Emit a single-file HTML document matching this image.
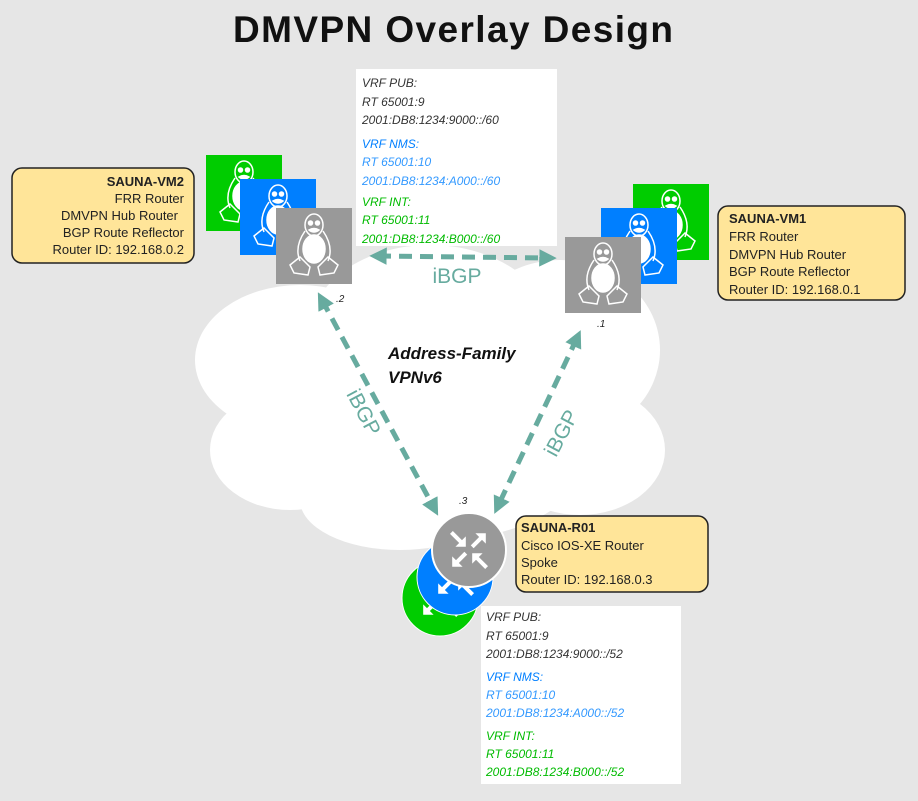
<!DOCTYPE html>
<html><head><meta charset="utf-8"><style>
body{margin:0;background:#e6e6e6;}
svg{display:block}
text{font-family:"Liberation Sans",sans-serif;}
</style></head><body>
<svg width="918" height="801" viewBox="0 0 918 801" xmlns="http://www.w3.org/2000/svg">
<defs>
<g id="peng" fill="none" stroke="#fff" stroke-width="1.5">
<ellipse cx="0" cy="-18" rx="9" ry="11"/>
<circle cx="-3.5" cy="-20" r="2" fill="#fff"/><circle cx="3.5" cy="-20" r="2" fill="#fff"/>
<path d="M-5 -13 Q0 -9 5 -13 Q0 -16 -5 -13Z" fill="#fff"/>
<path d="M-9 -12 Q-20 4 -14 18 M9 -12 Q20 4 14 18"/>
<ellipse cx="0" cy="6" rx="11" ry="14" fill="#fff"/>
<path d="M-14 14 L-24 22 L-20 30 L-6 32 L-4 24 Z M14 14 L24 22 L20 30 L6 32 L4 24 Z"/>
</g>
<g id="arw"><path d="M-22 -22 L-10 -10" stroke="#fff" stroke-width="5"/><path d="M-4 -4 L-4 -17 L-17 -4 Z" fill="#fff"/></g>
<g id="arwo"><path d="M-4 -4 L-16 -16" stroke="#fff" stroke-width="5"/><path d="M-21 -21 L-21 -8 L-8 -21 Z" fill="#fff"/></g>
<g id="rtr">
<use href="#arw"/>
<use href="#arw" transform="rotate(180)"/>
<use href="#arwo" transform="rotate(90)"/>
<use href="#arwo" transform="rotate(270)"/>
</g>
<marker id="ah" viewBox="0 0 10 10" refX="5" refY="5" markerWidth="3.5" markerHeight="3.5" orient="auto-start-reverse"><path d="M0 0 L10 5 L0 10 Z" fill="#67ab9f"/></marker>
</defs>
<text x="453" y="42" font-size="37" font-weight="bold" text-anchor="middle" fill="#111" textLength="440">DMVPN Overlay Design</text>
<!-- cloud -->
<g fill="#fff">
<ellipse cx="300" cy="360" rx="105" ry="75"/>
<ellipse cx="290" cy="450" rx="80" ry="60"/>
<ellipse cx="430" cy="330" rx="120" ry="85"/>
<ellipse cx="560" cy="350" rx="100" ry="90"/>
<ellipse cx="580" cy="450" rx="85" ry="65"/>
<ellipse cx="440" cy="450" rx="150" ry="90"/>
<ellipse cx="400" cy="500" rx="100" ry="50"/>
</g>
<rect x="206" y="155" width="76" height="76" fill="#00cc00"/><use href="#peng" x="244" y="190"/>
<rect x="240" y="179" width="76" height="76" fill="#007fff"/><use href="#peng" x="278" y="214"/>
<rect x="276" y="208" width="76" height="76" fill="#999"/><use href="#peng" x="314" y="243"/>
<rect x="633" y="184" width="76" height="76" fill="#00cc00"/><use href="#peng" x="671" y="219"/>
<rect x="601" y="208" width="76" height="76" fill="#007fff"/><use href="#peng" x="639" y="243"/>
<rect x="565" y="237" width="76" height="76" fill="#999"/><use href="#peng" x="603" y="272"/>
<circle cx="440" cy="598" r="38" fill="#00cc00" stroke="#fff"/><use href="#rtr" transform="translate(440 598) scale(0.8)"/>
<circle cx="455" cy="577" r="38" fill="#007fff" stroke="#fff"/><use href="#rtr" transform="translate(455 577) scale(0.8)"/>
<circle cx="469" cy="550" r="37" fill="#999" stroke="#fff" stroke-width="2"/><use href="#rtr" transform="translate(469 550) scale(0.8)"/>
<g stroke="#67ab9f" stroke-width="5" stroke-dasharray="13 8" fill="none" marker-start="url(#ah)" marker-end="url(#ah)">
<line x1="378" y1="256" x2="548" y2="258"/>
<line x1="322" y1="300" x2="434" y2="508"/>
<line x1="577" y1="338" x2="498" y2="506"/>
</g>
<g fill="#67ab9f" font-size="21">
<text x="457" y="283" text-anchor="middle">iBGP</text>
<text transform="translate(346 394) rotate(62)">iBGP</text>
<text transform="translate(556 458) rotate(-62)">iBGP</text>
</g>
<g font-size="10" fill="#222" font-style="italic">
<text x="336" y="302">.2</text><text x="597" y="327">.1</text><text x="459" y="504">.3</text>
</g>
<text x="388" y="359" font-size="17" font-weight="bold" font-style="italic" fill="#111">Address-Family</text>
<text x="388" y="383" font-size="17" font-weight="bold" font-style="italic" fill="#111">VPNv6</text>
<rect x="356" y="69" width="201" height="177" fill="#fff"/>
<g font-size="12" font-style="italic">
<text x="362" y="87" fill="#333">VRF PUB:</text><text x="362" y="106" fill="#333">RT 65001:9</text><text x="362" y="124" fill="#333">2001:DB8:1234:9000::/60</text>
<text x="362" y="148" fill="#007fff">VRF NMS:</text><text x="362" y="166" fill="#3399ff">RT 65001:10</text><text x="362" y="185" fill="#3399ff">2001:DB8:1234:A000::/60</text>
<text x="362" y="206" fill="#00bb00">VRF INT:</text><text x="362" y="224" fill="#00bb00">RT 65001:11</text><text x="362" y="243" fill="#00bb00">2001:DB8:1234:B000::/60</text>
</g>
<rect x="481" y="606" width="200" height="178" fill="#fff"/>
<g font-size="12" font-style="italic">
<text x="486" y="621" fill="#333">VRF PUB:</text><text x="486" y="640" fill="#333">RT 65001:9</text><text x="486" y="658" fill="#333">2001:DB8:1234:9000::/52</text>
<text x="486" y="681" fill="#007fff">VRF NMS:</text><text x="486" y="699" fill="#3399ff">RT 65001:10</text><text x="486" y="717" fill="#3399ff">2001:DB8:1234:A000::/52</text>
<text x="486" y="740" fill="#00bb00">VRF INT:</text><text x="486" y="758" fill="#00bb00">RT 65001:11</text><text x="486" y="776" fill="#00bb00">2001:DB8:1234:B000::/52</text>
</g>
<rect x="12" y="168" width="182" height="95" rx="10" fill="#ffe599" stroke="#222" stroke-width="1.5"/>
<g font-size="13" fill="#222" text-anchor="end">
<text x="184" y="186" font-weight="bold">SAUNA-VM2</text><text x="184" y="203">FRR Router</text><text x="178" y="220">DMVPN Hub Router</text><text x="184" y="237">BGP Route Reflector</text><text x="184" y="254">Router ID: 192.168.0.2</text>
</g>
<rect x="718" y="206" width="187" height="94" rx="10" fill="#ffe599" stroke="#222" stroke-width="1.5"/>
<g font-size="13" fill="#222">
<text x="729" y="223" font-weight="bold">SAUNA-VM1</text><text x="729" y="241">FRR Router</text><text x="729" y="259">DMVPN Hub Router</text><text x="729" y="276">BGP Route Reflector</text><text x="729" y="294">Router ID: 192.168.0.1</text>
</g>
<rect x="516" y="516" width="192" height="76" rx="10" fill="#ffe599" stroke="#222" stroke-width="1.5"/>
<g font-size="13" fill="#222">
<text x="521" y="532" font-weight="bold">SAUNA-R01</text><text x="521" y="550">Cisco IOS-XE Router</text><text x="521" y="567">Spoke</text><text x="521" y="584">Router ID: 192.168.0.3</text>
</g>
</svg>
</body></html>
